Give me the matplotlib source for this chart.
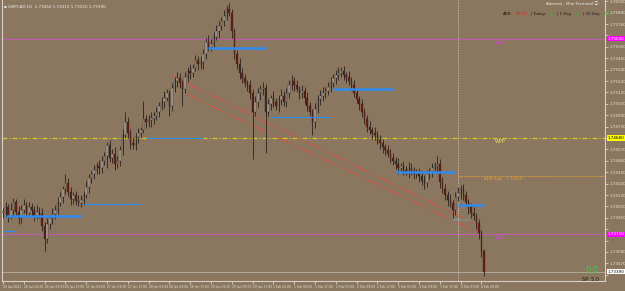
import matplotlib
matplotlib.use("Agg")
import matplotlib.pyplot as plt
import matplotlib.transforms as mtransforms

# GBPCAD H1 closes, one per hour
closes = [
    1.7396, 1.7401, 1.7393, 1.7399, 1.7406, 1.7397, 1.7391, 1.7399, 1.7403, 1.7396,
    1.7401, 1.7399, 1.7393, 1.7397, 1.7395, 1.7383, 1.7371, 1.7385, 1.7391, 1.7395,
    1.7399, 1.7405, 1.7411, 1.7419, 1.7425, 1.7416, 1.7409, 1.7413, 1.7407, 1.7405,
    1.7408, 1.7413, 1.7421, 1.7429, 1.7433, 1.7437, 1.7441, 1.7439, 1.7446, 1.7451,
    1.7461, 1.7449, 1.7453, 1.7443, 1.7446, 1.7456, 1.7471, 1.7483, 1.7473, 1.7463,
    1.7461, 1.7469, 1.7473, 1.7476, 1.7486, 1.7483, 1.7485, 1.7487, 1.7489, 1.7493,
    1.7499, 1.7503, 1.7507, 1.7511, 1.7499, 1.7516, 1.7523, 1.7526, 1.7521, 1.7515,
    1.7527, 1.7533, 1.7531, 1.7536, 1.7543, 1.7539, 1.7541, 1.7549, 1.7561, 1.7556,
    1.7559, 1.7566, 1.7571, 1.7576, 1.7581, 1.7586, 1.7593, 1.7589, 1.7571, 1.7549,
    1.7539, 1.7531, 1.7526, 1.7521, 1.7519, 1.7511, 1.7493, 1.7503, 1.7511, 1.7515,
    1.7516, 1.7493, 1.7501, 1.7507, 1.7503, 1.7499, 1.7505, 1.7509, 1.7503, 1.7511,
    1.7519, 1.7523, 1.7519, 1.7515, 1.7511, 1.7513, 1.7507, 1.7499, 1.7493, 1.7483,
    1.7496, 1.7506, 1.7509, 1.7511, 1.7513, 1.7517, 1.7521, 1.7526, 1.7529, 1.7531,
    1.7533, 1.7529, 1.7527, 1.7523, 1.7519, 1.7511, 1.7506, 1.7501, 1.7493, 1.7486,
    1.7479, 1.7476, 1.7473, 1.7471, 1.7466, 1.7463, 1.7459, 1.7456, 1.7453, 1.7449,
    1.7446, 1.7443, 1.7439, 1.7441, 1.7437, 1.7435, 1.7439, 1.7436, 1.7433, 1.7435,
    1.7431, 1.7427, 1.7425, 1.7433, 1.7436, 1.7439, 1.7441, 1.7443, 1.7426, 1.7419,
    1.7413, 1.7408, 1.7405, 1.7399, 1.7411, 1.7415, 1.7419, 1.7413, 1.7406, 1.7401,
    1.7396, 1.7393, 1.7386, 1.7376, 1.7359, 1.7339,
]
# wick lengths in pips above / below the body
wick_up = [
    4, 5, 3, 6, 4, 3, 5, 4, 6, 3,  5, 4, 3, 6, 4, 5, 4, 6, 3, 5,
    4, 6, 5, 3, 8, 4, 5, 3, 4, 6,  5, 4, 6, 4, 3, 5, 4, 6, 5, 4,
    3, 5, 4, 6, 5, 4, 6, 10, 5, 4,  6, 4, 5, 3, 18, 4, 5, 6, 4, 5,
    4, 5, 6, 4, 3, 5, 4, 6, 5, 3,  5, 4, 6, 3, 5, 4, 6, 5, 4, 6,
    5, 4, 6, 5, 4, 6, 3, 5, 4, 3,  4, 6, 5, 4, 3, 5, 4, 6, 5, 4,
    6, 4, 5, 3, 6, 4, 5, 6, 4, 5,  5, 6, 4, 5, 3, 6, 4, 5, 4, 3,
    6, 4, 5, 6, 4, 5, 6, 4, 5, 6,  4, 5, 3, 6, 4, 5, 4, 3, 5, 4,
    4, 5, 3, 6, 4, 5, 4, 3, 5, 4,  5, 4, 6, 3, 5, 4, 6, 5, 4, 3,
    4, 6, 5, 4, 3, 5, 4, 8, 5, 4,  5, 4, 6, 3, 5, 6, 4, 5, 4, 3,
    4, 5, 3, 4, 3, 2,
]
wick_dn = [
    5, 4, 6, 3, 5, 4, 6, 5, 3, 4,  4, 6, 5, 3, 4, 5, 12, 4, 5, 6,
    5, 4, 3, 6, 5, 4, 6, 5, 4, 3,  4, 5, 3, 6, 4, 5, 4, 6, 5, 4,
    12, 4, 5, 6, 4, 5, 4, 3, 5, 6,  4, 5, 6, 4, 3, 5, 4, 6, 5, 4,
    5, 4, 6, 3, 10, 5, 4, 6, 5, 16,  4, 5, 6, 4, 3, 5, 4, 6, 5, 4,
    4, 5, 3, 6, 4, 5, 4, 3, 6, 5,  4, 6, 5, 4, 6, 5, 45, 4, 5, 6,
    5, 39, 4, 6, 5, 4, 6, 5, 4, 5,  4, 5, 6, 3, 5, 4, 6, 5, 4, 12,
    5, 4, 6, 5, 4, 3, 5, 4, 6, 5,  4, 5, 6, 4, 5, 3, 4, 6, 5, 4,
    5, 4, 6, 5, 4, 6, 5, 4, 3, 5,  4, 5, 6, 4, 5, 3, 6, 4, 5, 4,
    5, 4, 6, 4, 5, 6, 4, 5, 6, 4,  5, 6, 4, 8, 5, 4, 6, 5, 4, 6,
    5, 4, 6, 5, 6, 4,
]

time_labels = [
    "25 Jan 2021", "26 Jan 01:00", "26 Jan 09:00", "26 Jan 17:00", "27 Jan 01:00",
    "27 Jan 09:00", "27 Jan 17:00", "28 Jan 01:00", "28 Jan 09:00", "28 Jan 17:00",
    "29 Jan 01:00", "29 Jan 09:00", "29 Jan 17:00", "1 Feb 01:00", "1 Feb 09:00",
    "1 Feb 17:00", "2 Feb 01:00", "2 Feb 09:00", "2 Feb 17:00", "3 Feb 01:00",
    "3 Feb 09:00", "3 Feb 17:00", "4 Feb 01:00", "4 Feb 09:00",
]
price_ticks = [1.7600 - 0.0011 * k for k in range(25)]

# indicator levels
wr1, wpp, ws1 = 1.7564, 1.7468, 1.7375
adr_high = 1.7431
bid = 1.7339
# (start bar, end bar, price)
blue_thick = [(1, 30, 1.7393), (79, 101, 1.7555), (127, 150, 1.7515),
              (151, 174, 1.7435), (175, 185, 1.7403)]
blue_thin = [(0, 5, 1.7378), (31, 53, 1.7404), (55, 77, 1.7468), (103, 126, 1.7488)]
red_lines = [((65, 1.7528), (183, 1.7383)), ((70, 1.7511), (182, 1.7378))]
day_sep = 175

BG = "#8B7760"
FS = ["DejaVu Sans", "Noto Sans CJK SC"]
plt.rcParams["font.family"] = FS

fig = plt.figure(figsize=(6.25, 2.91), dpi=100, facecolor=BG)
ax = fig.add_axes([2 / 625, 10 / 291, 603 / 625, 288 / 291], facecolor=BG)

# candles
opens = [closes[0]] + closes[:-1]
for i, (o, c) in enumerate(zip(opens, closes)):
    hi = max(o, c) + wick_up[i] * 0.0001
    lo = min(o, c) - wick_dn[i] * 0.0001
    ax.vlines(i, lo, hi, color="#2A221C", lw=0.6, zorder=3)
    body = abs(c - o) if abs(c - o) > 0.00004 else 0.00004
    col = "#ABA59B" if c >= o else "#6E1C16"
    ax.bar(i, body, bottom=min(o, c), width=0.6, color=col,
           edgecolor="#2A221C", linewidth=0.25, zorder=4)

# horizontal levels
ax.axhline(wr1, color="#C458B8", lw=0.7, zorder=2)
ax.axhline(ws1, color="#C458B8", lw=0.7, zorder=2)
ax.axhline(wpp, color="#D8C81E", lw=0.9, ls=(0, (4, 1.5, 1, 1.5)), zorder=2)
ax.axhline(bid, color="#B8B0A4", lw=0.6, zorder=2)
ax.hlines(adr_high, day_sep, 232, color="#D89A3A", lw=0.8, ls=(0, (1.5, 1)), zorder=2)
ax.axvline(day_sep, color="#CFC8BC", lw=0.6, ls=(0, (1.5, 1.5)), zorder=1)

for x0, x1, p in blue_thick:
    ax.hlines(p, x0, x1, color="#2E8BF0", lw=1.8, zorder=5)
for x0, x1, p in blue_thin:
    ax.hlines(p, x0, x1, color="#2E8BF0", lw=0.8, zorder=5)
for (x0, p0), (x1, p1) in red_lines:
    ax.plot([x0, x1], [p0, p1], color="#E8463C", lw=0.7, ls=(0, (1.5, 1)), zorder=2)

# level labels on chart
ax.text(189, wr1 - 0.0001, "WR1", color="#E040E0", fontsize=3.5, va="top")
ax.text(189, wpp - 0.0001, "WPP", color="#E8E070", fontsize=3.5, va="top")
ax.text(189, ws1 - 0.0001, "WS1", color="#E040E0", fontsize=3.5, va="top")
ax.text(185, adr_high - 0.0001, "ADR High : 1.74310", color="#E0A040", fontsize=2.8, va="top")
ax.text(173, 1.7389, "ADR Low", color="#6AB0B8", fontsize=2.8, va="center")

ax.set_xlim(-0.4, 231.5)
ax.set_ylim(1.7330, 1.7608)

# price boxes cover the scale labels beneath them
boxes = [(wr1, "#FF00FF", "#FFFFFF"), (wpp, "#FFFF00", "#000000"),
         (ws1, "#FF00FF", "#FFFFFF"), (bid, "#FFFFFF", "#000000")]
ylabels = []
for p in price_ticks:
    hidden = any(abs(p - b[0]) < 0.0006 for b in boxes)
    ylabels.append("" if hidden else f"{p:.5f}")

ax.yaxis.tick_right()
ax.set_yticks(price_ticks)
ax.set_yticklabels(ylabels)
ax.set_xticks(range(0, 8 * len(time_labels), 8))
ax.set_xticklabels(time_labels, ha="left")
ax.tick_params(axis="y", colors="#E8E2D8", labelsize=3.0, length=2, width=0.5, pad=1)
ax.tick_params(axis="x", colors="#E8E2D8", labelsize=2.2, length=2, width=0.5, pad=1)
for s in ax.spines.values():
    s.set_color("#D8D0C8")
    s.set_linewidth(0.8)

trans = mtransforms.blended_transform_factory(ax.transAxes, ax.transData)
for p, fc, tc in boxes:
    ax.text(1.004, p, f"{p:.5f}", transform=trans, fontsize=3.0, color=tc,
            va="center", ha="left", clip_on=False, zorder=10,
            bbox=dict(boxstyle="square,pad=0.15", fc=fc, ec="none"))

# header texts
fig.text(0.006, 0.975, "\u25aa GBPCAD,H1  1.73450 1.73510 1.73320 1.73390",
         color="#F0ECE4", fontsize=3.0, va="center")
fig.text(0.958, 0.985, "Admiral - Mini Terminal \u24d8", color="#F0ECE4",
         fontsize=3.0, va="center", ha="right")

# ADR row, each piece placed after the previous one
parts = [("ADR:", "#1A1410"), ("92.2%", "#E02020"), ("| Today:", "#1A1410"),
         ("95", "#20C020"), ("| 1 Day:", "#1A1410"), ("95", "#20C020"),
         ("| 20 Day:", "#1A1410"), ("105", "#20C020")]
renderer = fig.canvas.get_renderer()
xpx = 503
for s, c in parts:
    t = fig.text(xpx / 625, 0.952, s, color=c, fontsize=2.8, va="center")
    xpx += t.get_window_extent(renderer).width + 3

fig.text(0.958, 0.072, "0.0", color="#40D040", fontsize=6, ha="right", va="center")
fig.text(0.958, 0.040, "SP: 5.0", color="#1A1410", fontsize=3.5, ha="right", va="center")

fig.savefig("out.png", dpi=100, facecolor=BG)
